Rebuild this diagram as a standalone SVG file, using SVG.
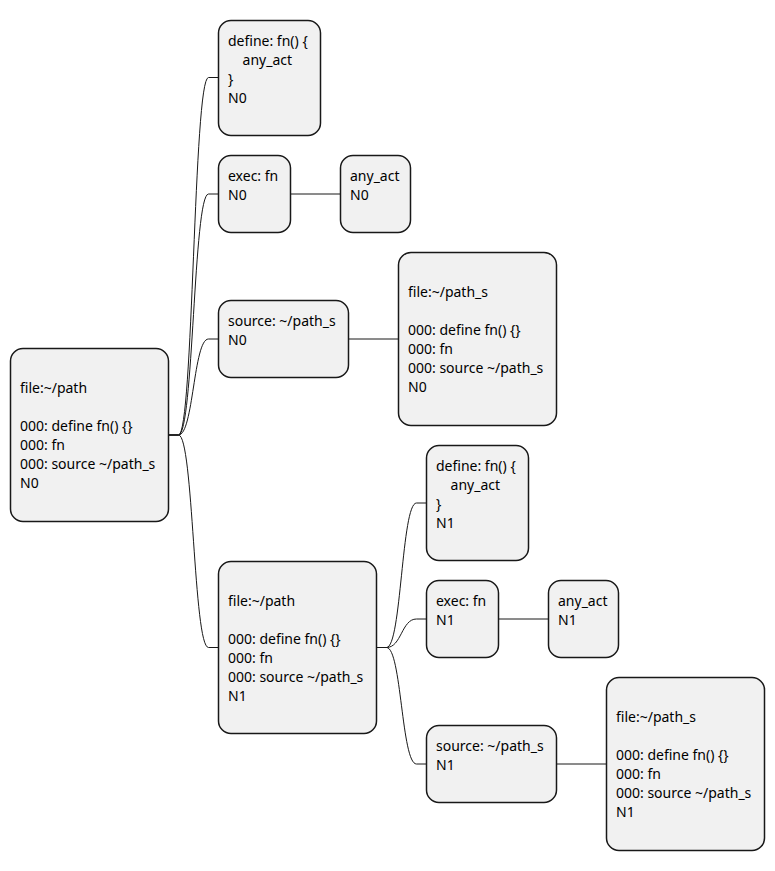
<svg xmlns="http://www.w3.org/2000/svg" width="775" height="871" viewBox="0 0 775 871">
  <style>
    .node rect { fill: #F1F1F1; stroke: #181818; stroke-width: 1.5; }
    .node text { font-family: "Noto Sans", "Open Sans", sans-serif; font-size: 14px; fill: #000000; white-space: pre; }
    #connectors path { fill: none; stroke: #181818; stroke-width: 1; }
  </style>
  <rect width="775" height="871" fill="#FFFFFF"/>

  <g id="connectors">
    <!-- root to first-level children -->
    <path d="M168.5,435 L178.5,435 C193.5,435 193.5,77.5 208.5,77.5 L218.5,77.5"/>
    <path d="M168.5,435 L178.5,435 C193.5,435 193.5,194 208.5,194 L218.5,194"/>
    <path d="M168.5,435 L178.5,435 C193.5,435 193.5,339 208.5,339 L218.5,339"/>
    <path d="M168.5,435 L178.5,435 C193.5,435 193.5,647.5 208.5,647.5 L218.5,647.5"/>
    <!-- N0 chains -->
    <path d="M290.5,194 L340.5,194"/>
    <path d="M348.5,339 L398.5,339"/>
    <!-- nested file to its children -->
    <path d="M376.5,647.5 L386.5,647.5 C401.5,647.5 401.5,503 416.5,503 L426.5,503"/>
    <path d="M376.5,647.5 L386.5,647.5 C401.5,647.5 401.5,619 416.5,619 L426.5,619"/>
    <path d="M376.5,647.5 L386.5,647.5 C401.5,647.5 401.5,764 416.5,764 L426.5,764"/>
    <!-- N1 chains -->
    <path d="M498.5,619 L548.5,619"/>
    <path d="M556.5,764 L606.5,764"/>
  </g>

  <g id="root" class="node">
    <rect x="10.5" y="348.5" width="158" height="173" rx="12.5" ry="12.5"/>
    <text x="20" y="393">file:~/path</text>
    <text x="20" y="431">000: define fn() {}</text>
    <text x="20" y="450">000: fn</text>
    <text x="20" y="469">000: source ~/path_s</text>
    <text x="20" y="488">N0</text>
  </g>

  <g id="define-n0" class="node">
    <rect x="218.5" y="20.5" width="102" height="115" rx="12.5" ry="12.5"/>
    <text x="228" y="46">define: fn() {</text>
    <text x="228" y="65">    any_act</text>
    <text x="228" y="84">}</text>
    <text x="228" y="103">N0</text>
  </g>

  <g id="exec-n0" class="node">
    <rect x="218.5" y="155.5" width="72" height="77" rx="12.5" ry="12.5"/>
    <text x="228" y="181">exec: fn</text>
    <text x="228" y="200">N0</text>
  </g>

  <g id="act-n0" class="node">
    <rect x="340.5" y="155.5" width="70" height="77" rx="12.5" ry="12.5"/>
    <text x="350" y="181">any_act</text>
    <text x="350" y="200">N0</text>
  </g>

  <g id="source-n0" class="node">
    <rect x="218.5" y="300.5" width="130" height="77" rx="12.5" ry="12.5"/>
    <text x="228" y="326">source: ~/path_s</text>
    <text x="228" y="345">N0</text>
  </g>

  <g id="file-s-n0" class="node">
    <rect x="398.5" y="252.5" width="158" height="173" rx="12.5" ry="12.5"/>
    <text x="408" y="297">file:~/path_s</text>
    <text x="408" y="335">000: define fn() {}</text>
    <text x="408" y="354">000: fn</text>
    <text x="408" y="373">000: source ~/path_s</text>
    <text x="408" y="392">N0</text>
  </g>

  <g id="file-n1" class="node">
    <rect x="218.5" y="561.5" width="158" height="172" rx="12.5" ry="12.5"/>
    <text x="228" y="606">file:~/path</text>
    <text x="228" y="644">000: define fn() {}</text>
    <text x="228" y="663">000: fn</text>
    <text x="228" y="682">000: source ~/path_s</text>
    <text x="228" y="701">N1</text>
  </g>

  <g id="define-n1" class="node">
    <rect x="426.5" y="445.5" width="102" height="115" rx="12.5" ry="12.5"/>
    <text x="436" y="471">define: fn() {</text>
    <text x="436" y="490">    any_act</text>
    <text x="436" y="509">}</text>
    <text x="436" y="528">N1</text>
  </g>

  <g id="exec-n1" class="node">
    <rect x="426.5" y="580.5" width="72" height="77" rx="12.5" ry="12.5"/>
    <text x="436" y="606">exec: fn</text>
    <text x="436" y="625">N1</text>
  </g>

  <g id="act-n1" class="node">
    <rect x="548.5" y="580.5" width="70" height="77" rx="12.5" ry="12.5"/>
    <text x="558" y="606">any_act</text>
    <text x="558" y="625">N1</text>
  </g>

  <g id="source-n1" class="node">
    <rect x="426.5" y="725.5" width="130" height="77" rx="12.5" ry="12.5"/>
    <text x="436" y="751">source: ~/path_s</text>
    <text x="436" y="770">N1</text>
  </g>

  <g id="file-s-n1" class="node">
    <rect x="606.5" y="677.5" width="158" height="173" rx="12.5" ry="12.5"/>
    <text x="616" y="722">file:~/path_s</text>
    <text x="616" y="760">000: define fn() {}</text>
    <text x="616" y="779">000: fn</text>
    <text x="616" y="798">000: source ~/path_s</text>
    <text x="616" y="817">N1</text>
  </g>
</svg>
